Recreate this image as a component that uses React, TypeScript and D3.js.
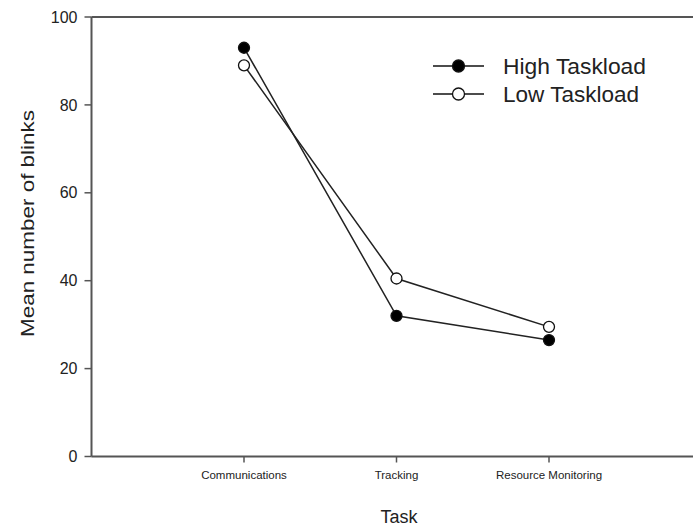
import React from "react";
import * as d3 from "d3";

const categories = ["Communications", "Tracking", "Resource Monitoring"];
const highTaskload = [93, 32, 26.5];
const lowTaskload = [89, 40.5, 29.5];
const yTicks = [0, 20, 40, 60, 80, 100];
const seriesNames = ["High Taskload", "Low Taskload"];

const W = 693;
const H = 527;
const left = 91.5;
const top = 17;
const bottom = 456.5;
const axisColor = "#555";
const font = "Arial, 'Liberation Sans', sans-serif";

export default function App() {
  const x = d3.scaleLinear().domain([0, categories.length + 1]).range([left, left + 152.5 * 4]);
  const y = d3.scaleLinear().domain([0, 100]).range([bottom, top]);
  const line = d3
    .line<number>()
    .x((_, i) => x(i + 1))
    .y((d) => y(d));
  const series = [
    { name: seriesNames[0], values: highTaskload, fill: "#000" },
    { name: seriesNames[1], values: lowTaskload, fill: "#fff" },
  ];
  return (
    <svg
      width={W}
      height={H}
      style={{ position: "fixed", left: 0, top: 0, background: "#fff" }}
      fontFamily={font}
    >
      <line x1={left} x2={W} y1={top} y2={top} stroke={axisColor} strokeWidth={2} />
      <line x1={left} x2={W} y1={bottom} y2={bottom} stroke={axisColor} strokeWidth={2} />
      <line x1={left} x2={left} y1={top} y2={bottom} stroke={axisColor} strokeWidth={2} />
      {yTicks.map((t) => (
        <g key={t}>
          <line x1={left - 7} x2={left} y1={y(t)} y2={y(t)} stroke={axisColor} strokeWidth={1.5} />
          <text x={left - 14} y={y(t)} dy="0.35em" textAnchor="end" fontSize={16} fill="#222">
            {t}
          </text>
        </g>
      ))}
      {categories.map((c, i) => (
        <g key={c}>
          <line x1={x(i + 1)} x2={x(i + 1)} y1={bottom} y2={bottom + 6} stroke={axisColor} strokeWidth={1.5} />
          <text x={x(i + 1)} y={bottom + 22} textAnchor="middle" fontSize={11.5} fill="#222">
            {c}
          </text>
        </g>
      ))}
      <text x={399} y={523} textAnchor="middle" fontSize={18} fill="#222">
        Task
      </text>
      <text
        transform={`translate(33.5, 223.5) rotate(-90)`}
        textAnchor="middle"
        fontSize={19}
        fill="#222"
        textLength={227}
        lengthAdjust="spacingAndGlyphs"
      >
        Mean number of blinks
      </text>
      {series.map((s) => (
        <g key={s.name}>
          <path d={line(s.values) || ""} fill="none" stroke="#222" strokeWidth={1.5} />
          {s.values.map((v, i) => (
            <circle key={i} cx={x(i + 1)} cy={y(v)} r={5.5} fill={s.fill} stroke="#111" strokeWidth={1.3} />
          ))}
        </g>
      ))}
      {series.map((s, i) => (
        <g key={"lg" + s.name} transform={`translate(0, ${66 + i * 28})`}>
          <line x1={433} x2={484} y1={0} y2={0} stroke="#111" strokeWidth={1.5} />
          <circle cx={458.5} cy={0} r={6} fill={s.fill} stroke="#111" strokeWidth={1.3} />
          <text
            x={503}
            y={0}
            dy="0.35em"
            fontSize={22}
            fill="#222"
            textLength={i === 0 ? 143 : 136}
            lengthAdjust="spacingAndGlyphs"
          >
            {s.name}
          </text>
        </g>
      ))}
    </svg>
  );
}
